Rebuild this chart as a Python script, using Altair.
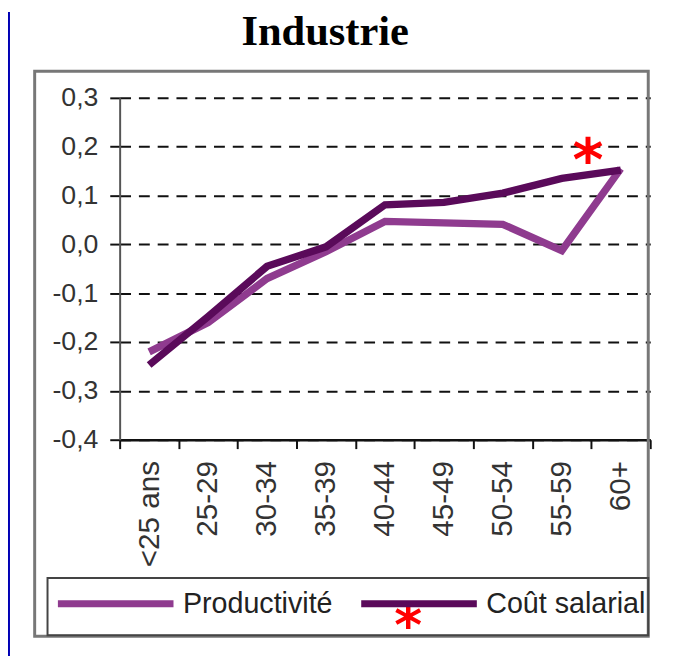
import altair as alt
import pandas as pd

# ---- data ----
categories = ["<25 ans", "25-29", "30-34", "35-39", "40-44", "45-49", "50-54", "55-59", "60+"]
productivite = [-0.22, -0.16, -0.07, -0.015, 0.047, 0.044, 0.041, -0.013, 0.155]
cout_salarial = [-0.247, -0.148, -0.045, -0.005, 0.081, 0.086, 0.105, 0.135, 0.152]
series_names = ["Productivité", "Coût salarial"]
series_colors = ["#8f3b8f", "#5a0a5a"]
y_ticks = [-0.4, -0.3, -0.2, -0.1, 0.0, 0.1, 0.2, 0.3]
title_text = "Industrie"

W, H = 537, 346

df_p = pd.DataFrame({"cat": categories, "val": productivite, "serie": series_names[0]})
df_c = pd.DataFrame({"cat": categories, "val": cout_salarial, "serie": series_names[1]})
one = pd.DataFrame({"k": [0]})

xenc = alt.X(
    "cat:N",
    sort=categories,
    bandPosition=0.5,
    scale=alt.Scale(type="band", paddingInner=0, paddingOuter=0),
    axis=alt.Axis(
        title=None, labelAngle=-90, labelAlign="right", labelBaseline="middle",
        labelFont="Liberation Sans", labelFontSize=30, labelColor="#333",
        labelPadding=12, tickBand="extent", tickSize=9, tickWidth=2, tickColor="#111",
        domainColor="#111", domainWidth=2.5, grid=False,
    ),
)
yenc = alt.Y(
    "val:Q",
    scale=alt.Scale(domain=[-0.4, 0.3], nice=False, zero=False),
    axis=alt.Axis(
        title=None, values=y_ticks,
        labelExpr="replace(replace(format(datum.value, '.1f'), '.', ','), '\u2212', '-')",
        labelFont="Liberation Sans", labelFontSize=27, labelColor="#333",
        labelPadding=12, tickSize=10, tickWidth=2, tickColor="#111",
        domainColor="#555", domainWidth=2,
        grid=True, gridColor="#111", gridWidth=2, gridDash=[11, 8],
    ),
)
color = alt.Color(
    "serie:N",
    scale=alt.Scale(domain=series_names, range=series_colors),
    legend=alt.Legend(
        orient="none", legendX=-66, legendY=450, direction="horizontal", title=None,
        symbolType="stroke", symbolSize=13689, symbolStrokeWidth=7,
        labelFont="Liberation Sans", labelFontSize=29, labelColor="#222",
        labelOffset=6, columnPadding=14, padding=0, labelLimit=400,
    ),
)

blue = alt.Chart(one).mark_rect(color="#0000b4").encode(
    x=alt.value(-113), x2=alt.value(-111), y=alt.value(-87), y2=alt.value(565)
)
outer_box = alt.Chart(one).mark_rect(fillOpacity=0, stroke="#777", strokeWidth=3).encode(
    x=alt.value(-86), x2=alt.value(535), y=alt.value(-27), y2=alt.value(545)
)
legend_box = alt.Chart(one).mark_rect(fillOpacity=0, stroke="#444", strokeWidth=2).encode(
    x=alt.value(-73), x2=alt.value(535), y=alt.value(486), y2=alt.value(544)
)
title = alt.Chart(one).mark_text(
    text=title_text, font="Liberation Serif", fontSize=43, fontWeight="bold",
    color="#000", align="center", baseline="alphabetic",
).encode(x=alt.value(208), y=alt.value(-53))

line_p = alt.Chart(df_p).mark_line(strokeWidth=7.5, strokeJoin="miter").encode(x=xenc, y=yenc, color=color)
line_c = alt.Chart(df_c).mark_line(strokeWidth=7.5, strokeJoin="miter").encode(x=xenc, y=yenc, color=color)

star1 = alt.Chart(one).mark_text(
    text="*", font="DejaVu Sans", fontSize=60, fontWeight="bold", color="#ff0000",
    align="center", baseline="middle"
).encode(x=alt.value(474), y=alt.value(65))
star2 = alt.Chart(one).mark_text(
    text="*", font="DejaVu Sans", fontSize=54, fontWeight="bold", color="#ff0000",
    align="center", baseline="middle"
).encode(x=alt.value(292), y=alt.value(537))

chart = alt.layer(
    blue, outer_box, legend_box, title, line_p, line_c, star1, star2
).properties(
    width=W, height=H,
    autosize=alt.AutoSizeParams(type="none"),
    padding={"left": 113, "top": 87, "right": 19, "bottom": 219},
).configure(background="white").configure_view(stroke=None)

chart.save("out.html", embed_options={"renderer": "svg", "actions": False})
